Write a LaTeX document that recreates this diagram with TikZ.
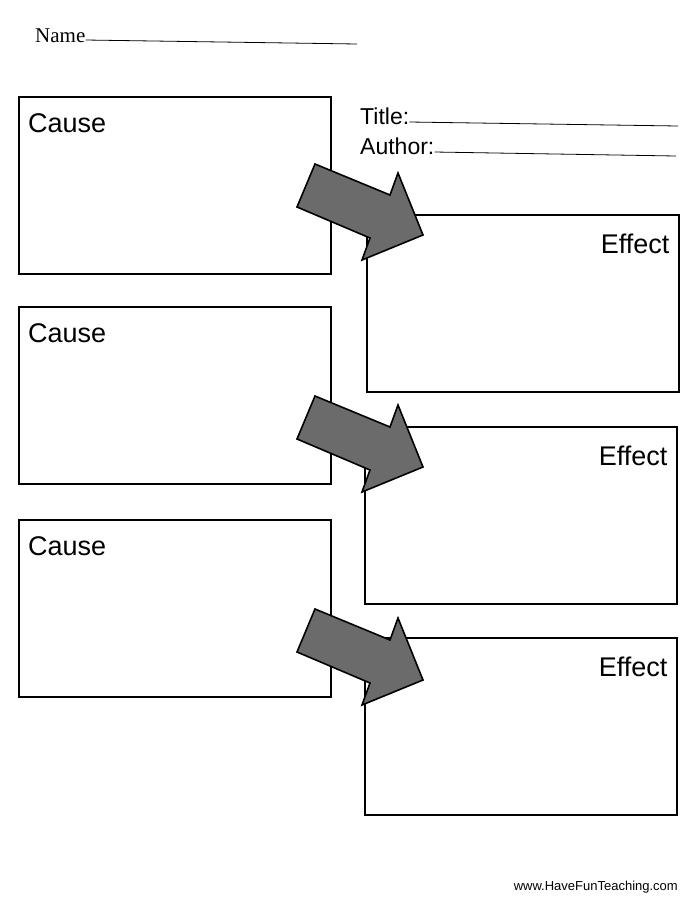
\documentclass[tikz,border=0pt]{standalone}
\usepackage{fontspec}
\setmainfont{Liberation Serif}
\setsansfont{Liberation Sans}
\begin{document}
\begin{tikzpicture}[x=1pt,y=1pt,yscale=-1,xscale=1,
    box/.style={draw,line width=1.6pt,minimum width=312pt,minimum height=177pt,anchor=north west,inner sep=0pt},
    boxtext/.style={font=\sffamily\fontsize{27}{30}\selectfont,inner sep=0pt},
    headtext/.style={anchor=base west,inner sep=0pt,font=\sffamily\fontsize{23}{26}\selectfont},
    rule/.style={line width=0.8pt},
    bigarrow/.style={draw,line width=1.6pt,fill=black!58,line join=miter}]
    \useasboundingbox (0,0) rectangle (700,906);

    % Header
    \node (name) [anchor=base west,inner sep=0pt,font=\fontsize{21}{24}\selectfont] at (35,42) {Name};
    \coordinate (nameend) at (357,44);
    \draw [rule] ([yshift=-2pt]name.base east) -- (nameend);
    \node (title) [headtext] at (360,124) {Title:};
    \coordinate (titleend) at (678,126);
    \draw [rule] ([yshift=-2pt]title.base east) -- (titleend);
    \node (author) [headtext] at (360,154) {Author:};
    \coordinate (authorend) at (676,156);
    \draw [rule] ([yshift=-2pt]author.base east) -- (authorend);

    % Boxes
    \foreach \i/\cy/\ey/\ex in {1/96/214/366, 2/306/426/364, 3/519/637/364} {
        \node (cause\i) [box] at (18,\cy) {};
        \node (causetext\i) [boxtext,anchor=north west] at ([shift={(10,17)}]cause\i.north west) {Cause};
        \node (effect\i) [box] at (\ex,\ey) {};
        \node (effecttext\i) [boxtext,anchor=north east] at ([shift={(-10,20)}]effect\i.north east) {Effect};
    }

    % Arrows
    \foreach \dy in {0,232,445} {
        \draw [bigarrow,shift={(0,\dy)}] (315,164) -- (390,195) -- (398,173) -- (423,235) -- (362,260) -- (370,238) -- (297,207) -- cycle;
    }

    % Footer
    \node (footer) [anchor=base east,inner sep=0pt,font=\sffamily\fontsize{13}{15}\selectfont] at (678,890) {www.HaveFunTeaching.com};
\end{tikzpicture}
\end{document}
